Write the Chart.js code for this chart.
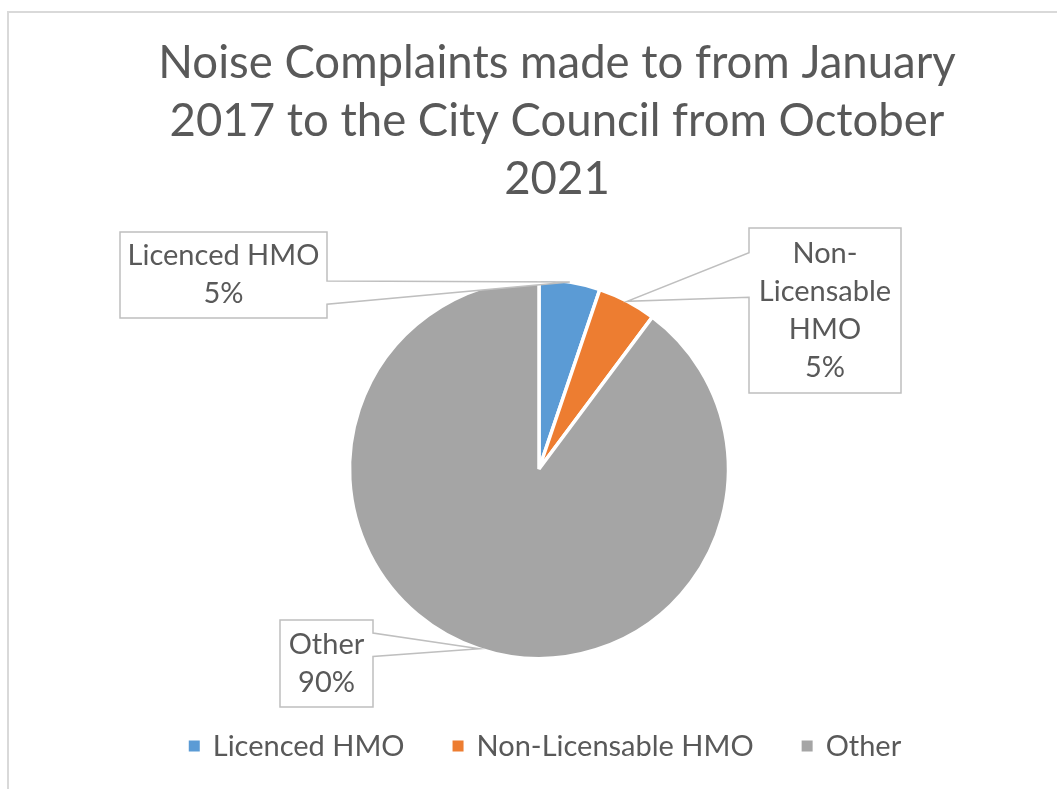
<!DOCTYPE html>
<html>
<head>
<meta charset="utf-8">
<script src="https://cdn.jsdelivr.net/npm/chart.js@4"></script>
<style>
  html, body { margin: 0; padding: 0; background: #ffffff; }
  #wrap { width: 1057px; height: 789px; position: relative; }
</style>
</head>
<body>
<div id="wrap"><canvas id="noiseChart" width="1057" height="789"></canvas></div>
<script>
// chart data
const titleLines = ['Noise Complaints made to from January', '2017 to the City Council from October', '2021'];
const categories = ['Licenced HMO', 'Non-Licensable HMO', 'Other'];
const shares = [5.2, 5.0, 89.8];
const shareLabels = ['5%', '5%', '90%'];
// how each category name is broken inside its callout box
const calloutNames = [['Licenced HMO'], ['Non-', 'Licensable', 'HMO'], ['Other']];
const sliceColors = ['#5B9BD5', '#ED7D31', '#A5A5A5'];

const textColor = '#595959';
const fontFamily = 'Lato, "Open Sans", sans-serif';

// callout boxes: rect plus which side the pointer leaves from (fractions of box height)
const calloutBoxes = [
  { x: 120, y: 232, w: 207, h: 86, side: 'right', a: 0.57, b: 0.84 },
  { x: 749, y: 228, w: 152, h: 165, side: 'left', a: 0.15, b: 0.42 },
  { x: 280, y: 620, w: 93, h: 87, side: 'right', a: 0.15, b: 0.42 }
];

// frame around the chart, title, callouts and legend
const decorPlugin = {
  id: 'decor',
  beforeDraw(chart) {
    const ctx = chart.ctx;
    ctx.save();
    ctx.strokeStyle = '#d9d9d9';
    ctx.lineWidth = 2;
    ctx.beginPath();
    ctx.moveTo(8, 789);
    ctx.lineTo(8, 12);
    ctx.lineTo(1057, 12);
    ctx.stroke();

    // title
    ctx.fillStyle = textColor;
    ctx.font = '45.5px ' + fontFamily;
    ctx.textAlign = 'center';
    ctx.textBaseline = 'alphabetic';
    titleLines.forEach((line, i) => {
      ctx.fillText(line, 557, 78 + i * 58);
    });
    ctx.restore();
  },
  afterDraw(chart) {
    const ctx = chart.ctx;
    const meta = chart.getDatasetMeta(0);
    ctx.save();

    // callout labels
    meta.data.forEach((arc, i) => {
      const box = calloutBoxes[i];
      const mid = (arc.startAngle + arc.endAngle) / 2;
      const tipX = arc.x + Math.cos(mid) * arc.outerRadius;
      const tipY = arc.y + Math.sin(mid) * arc.outerRadius;
      const { x, y, w, h } = box;

      ctx.beginPath();
      if (box.side === 'right') {
        ctx.moveTo(x, y);
        ctx.lineTo(x + w, y);
        ctx.lineTo(x + w, y + h * box.a);
        ctx.lineTo(tipX, tipY);
        ctx.lineTo(x + w, y + h * box.b);
        ctx.lineTo(x + w, y + h);
        ctx.lineTo(x, y + h);
      } else {
        ctx.moveTo(x, y);
        ctx.lineTo(x + w, y);
        ctx.lineTo(x + w, y + h);
        ctx.lineTo(x, y + h);
        ctx.lineTo(x, y + h * box.b);
        ctx.lineTo(tipX, tipY);
        ctx.lineTo(x, y + h * box.a);
      }
      ctx.closePath();
      ctx.fillStyle = '#ffffff';
      ctx.fill();
      ctx.strokeStyle = '#bfbfbf';
      ctx.lineWidth = 1.5;
      ctx.stroke();

      const lines = calloutNames[i].concat([shareLabels[i]]);
      ctx.fillStyle = textColor;
      ctx.font = '29px ' + fontFamily;
      ctx.textAlign = 'center';
      ctx.textBaseline = 'alphabetic';
      const lineH = 38;
      const firstBase = y + h / 2 - (lines.length * lineH) / 2 + 28;
      lines.forEach((t, j) => ctx.fillText(t, x + w / 2, firstBase + j * lineH));
    });

    // legend
    ctx.font = '29px ' + fontFamily;
    ctx.textAlign = 'left';
    ctx.textBaseline = 'middle';
    const sq = 11, sqGap = 13, itemGap = 48;
    const widths = categories.map(c => sq + sqGap + ctx.measureText(c).width);
    const total = widths.reduce((s, v) => s + v, 0) + itemGap * (categories.length - 1);
    let lx = 545 - total / 2;
    const ly = 746;
    categories.forEach((c, i) => {
      ctx.fillStyle = sliceColors[i];
      ctx.fillRect(lx, ly - sq / 2, sq, sq);
      ctx.fillStyle = textColor;
      ctx.fillText(c, lx + sq + sqGap, ly + 1);
      lx += widths[i] + itemGap;
    });
    ctx.restore();
  }
};

new Chart(document.getElementById('noiseChart').getContext('2d'), {
  type: 'pie',
  data: {
    labels: categories,
    datasets: [{
      data: shares,
      backgroundColor: sliceColors,
      borderColor: '#ffffff',
      borderWidth: 3.5
    }]
  },
  options: {
    responsive: false,
    animation: false,
    radius: 189.5,
    layout: { padding: { left: 21, right: 0, top: 200, bottom: 51 } },
    plugins: {
      legend: { display: false },
      title: { display: false },
      tooltip: { enabled: false }
    }
  },
  plugins: [decorPlugin]
});
</script>
</body>
</html>
